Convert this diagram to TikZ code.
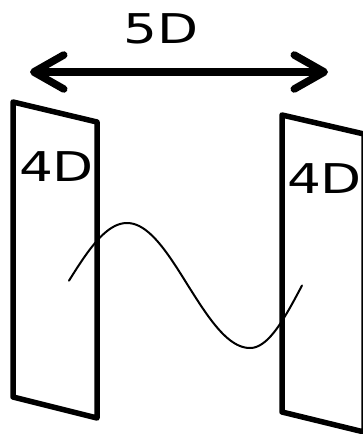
\documentclass[tikz,border=0pt]{standalone}
\usepackage{fontspec}
\setmainfont{DejaVu Sans}
\usetikzlibrary{arrows.meta}
\begin{document}
\begin{tikzpicture}[line join=round, line cap=round, x=1pt, y=1pt]
	\tikzset{every node/.style={font=\fontsize{41}{45}\selectfont, xscale=1.3, inner sep=0pt}}
	\tikzset{plate/.style={line width=5.5pt}}
	\useasboundingbox (0,0) rectangle (362,-434);
	% distance between the branes
	\coordinate (lefttip) at (30,-72);
	\coordinate (righttip) at (328,-72);
	\draw[line width=7.5pt, {Straight Barb[length=30pt, width=34pt, round]}-{Straight Barb[length=30pt, width=34pt, round]}] (lefttip) -- (righttip);
	\node (bulk) at (161,-28.5) {5D};
	% the two branes
	\draw[plate] (13,-102) -- (97,-122) -- (97,-418) -- (13,-397) -- cycle;
	\draw[plate] (282,-115) -- (364,-134) -- (364,-432) -- (282,-412) -- cycle;
	\node (leftbrane) at (56.5,-167) {4D};
	\node (rightbrane) at (324.5,-179) {4D};
	% string between them
	\draw[line width=2pt, samples=60, variable=\x]
		plot[domain=69:188] (\x,{-285.5+62.5*cos(90*(\x-127)/61)})
		-- plot[domain=188:250] (\x,{-285.5-62.5*sin(90*(\x-188)/62)})
		-- plot[domain=250:302] (\x,{-285.5-62.5*cos(90*(\x-250)/52)});
\end{tikzpicture}
\end{document}
